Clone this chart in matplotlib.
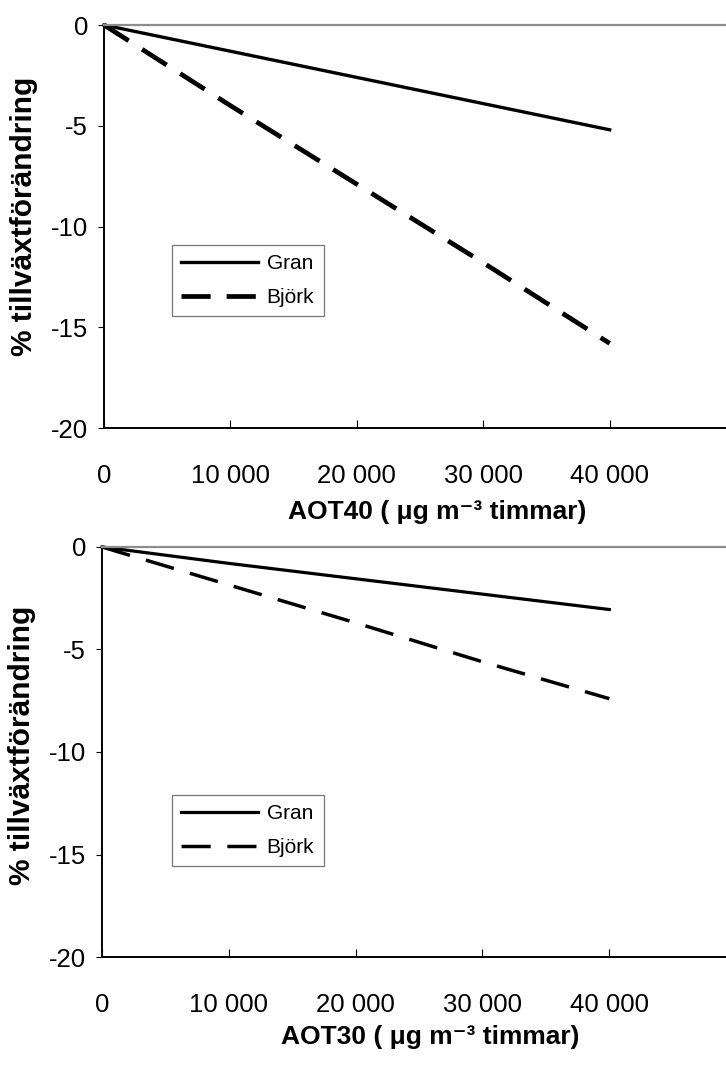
import matplotlib.pyplot as plt
from matplotlib.ticker import FixedLocator, FixedFormatter

plt.rcParams['font.family'] = ['Liberation Sans', 'DejaVu Sans']
plt.rcParams['lines.scale_dashes'] = False

aot = [0, 10000, 20000, 30000, 40000]
gran_aot40 = [0, -1.3, -2.6, -3.9, -5.2]
bjork_aot40 = [0, -4.0, -7.9, -11.8, -15.8]
gran_aot30 = [0, -0.8, -1.55, -2.3, -3.05]
bjork_aot30 = [0, -1.85, -3.7, -5.6, -7.4]

x_ticks = [0, 10000, 20000, 30000, 40000]
x_labels = ['0', '10 000', '20 000', '30 000', '40 000']
y_ticks = [0, -5, -10, -15, -20]
y_label = '% tillväxtförändring'


def setup_axis(ax, xlabel, xlab_pos, ylab_y):
    ax.set_xlim(0, 49200)
    ax.set_ylim(-20, 0)
    ax.spines['right'].set_visible(False)
    ax.spines['top'].set_color('#8c8c8c')
    ax.spines['top'].set_linewidth(1.6)
    ax.spines['left'].set_linewidth(1.4)
    ax.spines['bottom'].set_linewidth(1.4)
    ax.xaxis.set_major_locator(FixedLocator(x_ticks))
    ax.xaxis.set_major_formatter(FixedFormatter(x_labels))
    ax.set_yticks(y_ticks)
    ax.set_yticklabels([str(v) for v in y_ticks])
    ax.tick_params(axis='x', direction='in', length=6, width=0.8,
                   pad=26, labelsize=18.5)
    ax.tick_params(axis='y', direction='out', length=4.5, width=0.8,
                   pad=7, labelsize=18.5)
    ax.set_xlabel(xlabel, fontsize=19, fontweight='bold')
    ax.xaxis.set_label_coords(xlab_pos[0], xlab_pos[1])
    ax.xaxis.label.set_va('center')
    ax.set_ylabel(y_label, fontsize=21.5, fontweight='bold')
    ax.yaxis.set_label_coords(-0.128, ylab_y)
    ax.yaxis.label.set_va('center')


fig = plt.figure(figsize=(7.26, 10.7), dpi=100)
ax1 = fig.add_axes([0.1433, 0.6, 1.0 - 0.1433, 0.3766])
ax2 = fig.add_axes([0.1405, 0.1056, 1.0 - 0.1405, 0.3832])

ax1.plot(aot, gran_aot40, color='black', lw=2.4, label='Gran', clip_on=False)
ax1.plot(aot, bjork_aot40, color='black', lw=3.4, dashes=(21, 11.5),
         label='Björk', clip_on=False)
ax2.plot(aot, gran_aot30, color='black', lw=2.3, label='Gran', clip_on=False)
ax2.plot(aot, bjork_aot30, color='black', lw=2.5, dashes=(21, 12),
         label='Björk', clip_on=False)

setup_axis(ax1, 'AOT40 ( μg m⁻³ timmar)', (0.535, -0.208), 0.524)
setup_axis(ax2, 'AOT30 ( μg m⁻³ timmar)', (0.526, -0.195), 0.517)

legend_pos = {ax1: (0.109, 0.454), ax2: (0.112, 0.395)}
for ax in (ax1, ax2):
    leg = ax.legend(loc='upper left', bbox_to_anchor=legend_pos[ax],
                    fontsize=15, frameon=True, fancybox=False,
                    handlelength=3.7, handletextpad=0.4, labelspacing=0.7,
                    borderpad=0.45, borderaxespad=0)
    leg.get_frame().set_edgecolor('#555555')
    leg.get_frame().set_linewidth(0.9)

fig.savefig('out.png', dpi=100)
